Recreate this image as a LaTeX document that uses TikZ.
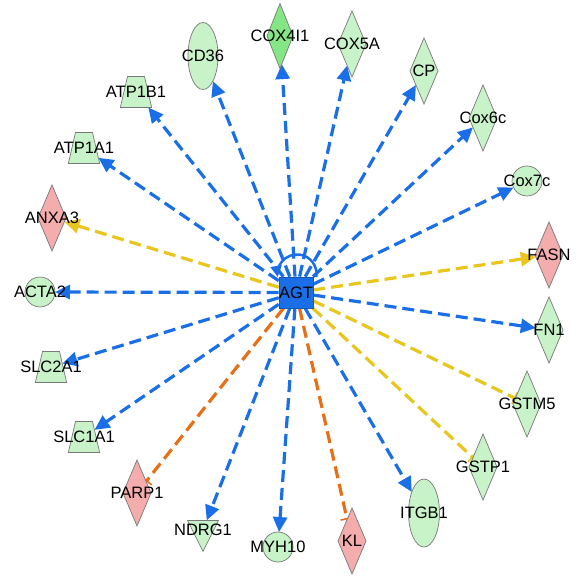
\documentclass[tikz,border=0pt]{standalone}
\usepackage{fontspec}
\setmainfont{Liberation Sans}
\usetikzlibrary{shapes.geometric,arrows.meta,backgrounds}
\definecolor{eblue}{RGB}{26,111,230}
\definecolor{eyellow}{RGB}{232,198,30}
\definecolor{eorange}{RGB}{230,112,24}
\definecolor{lgreen}{RGB}{200,242,200}
\definecolor{dgreen}{RGB}{132,230,132}
\definecolor{lpink}{RGB}{245,172,172}
\definecolor{bgray}{RGB}{120,120,120}
\begin{document}
\begin{tikzpicture}[x=1pt,y=1pt,
  every label/.style={font=\fontsize{16.5}{19}\selectfont, inner sep=0pt, text=black},
  gene/.style={draw=bgray, line width=0.7pt, inner sep=0pt, outer sep=0pt},
  dia/.style={gene, diamond, minimum width=28pt, minimum height=66pt, fill=#1},
  dia/.default=lgreen,
  oval/.style={gene, ellipse, minimum width=30pt, minimum height=67pt, fill=lgreen},
  round/.style={gene, circle, minimum size=30pt, fill=lgreen},
  trap/.style={gene, trapezium, trapezium left angle=77, trapezium right angle=77,
    inner xsep=8.5pt, inner ysep=15.5pt, minimum width=0pt, minimum height=0pt, fill=lgreen},
  vtri/.style={gene, isosceles triangle, isosceles triangle stretches, shape border rotate=-90,
    minimum width=31pt, minimum height=31pt, fill=lgreen},
  agtbox/.style={draw=eblue!80!black, line width=0.7pt, fill=eblue, minimum width=32pt,
    minimum height=31pt, inner sep=0pt, font=\fontsize{16.5}{19}\selectfont},
  edge/.style={line width=3.2pt, dash pattern=on 12pt off 6pt},
  act/.style={edge, draw=#1, -{Triangle[length=15pt,width=14pt,fill=#1]}},
  inh/.style={edge, draw=#1, -{Bar[width=13pt,line width=1.6pt]}},
]
\useasboundingbox (0,0) rectangle (579,580);

% nodes
\node[agtbox] (agt) at (296,287.5) {AGT};
\node[oval, label=center:CD36] (cd36) at (203,524) {};
\node[dia=dgreen, minimum width=26pt, minimum height=65pt, label=center:COX4I1] (cox4) at (280,544) {};
\node[dia, label=center:COX5A] (cox5a) at (352,536) {};
\node[dia, label=center:CP] (cp) at (424,509) {};
\node[dia, label=center:Cox6c] (cox6c) at (483,462) {};
\node[round, label=center:Cox7c] (cox7c) at (527,399) {};
\node[dia=lpink, label=center:FASN] (fasn) at (549,325) {};
\node[dia, label=center:FN1] (fn1) at (549,250) {};
\node[dia, label=center:GSTM5] (gstm5) at (527,176) {};
\node[dia, label=center:GSTP1] (gstp1) at (483,113) {};
\node[oval, minimum width=31pt, minimum height=68pt, label=center:ITGB1] (itgb1) at (424,67) {};
\node[dia=lpink, label=center:KL] (kl) at (352,39) {};
\node[round, label=center:MYH10] (myh10) at (278,33) {};
\node[vtri, label=center:NDRG1] (ndrg1) at (203,50) {};
\node[dia=lpink, label=center:PARP1] (parp1) at (137,87) {};
\node[trap, label=center:SLC1A1] (slc1a1) at (84,143) {};
\node[trap, label=center:SLC2A1] (slc2a1) at (51,213) {};
\node[round, label=center:ACTA2] (acta2) at (40,288) {};
\node[dia=lpink, label=center:ANXA3] (anxa3) at (52,362) {};
\node[trap, label=center:ATP1A1] (atp1a1) at (84,432) {};
\node[trap, label=center:ATP1B1] (atp1b1) at (136,488) {};

% edges
\begin{scope}[on background layer]
\fill[white] (0,0) rectangle (579,580);
\draw[act=eblue] (agt) -- (cd36);
\draw[act=eblue] (agt) -- (cox4);
\draw[act=eblue] (agt) -- (cox5a);
\draw[act=eblue] (agt) -- (cp);
\draw[act=eblue] (agt) -- (cox6c);
\draw[act=eblue] (agt) -- (cox7c);
\draw[act=eyellow] (agt) -- (fasn);
\draw[act=eblue] (agt) -- (fn1);
\draw[inh=eyellow] (agt) -- (gstm5);
\draw[inh=eyellow] (agt) -- (gstp1);
\draw[act=eblue] (agt) -- (itgb1);
\draw[inh=eorange] (agt) -- (kl);
\draw[act=eblue] (agt) -- (myh10);
\draw[act=eblue] (agt) -- (ndrg1);
\draw[inh=eorange] (agt) -- (parp1);
\draw[act=eblue] (agt) -- (slc1a1);
\draw[act=eblue] (agt) -- (slc2a1);
\draw[act=eblue] (agt) -- (acta2);
\draw[act=eyellow] (agt) -- (anxa3);
\draw[act=eblue] (agt) -- (atp1a1);
\draw[act=eblue] (agt) -- (atp1b1);
\end{scope}

% self loop
\draw[eblue, line width=2.5pt, -{Triangle[length=11pt,width=11pt]}]
  (316.3,303) arc[start angle=-9, end angle=189, radius=19.5];
\end{tikzpicture}
\end{document}
